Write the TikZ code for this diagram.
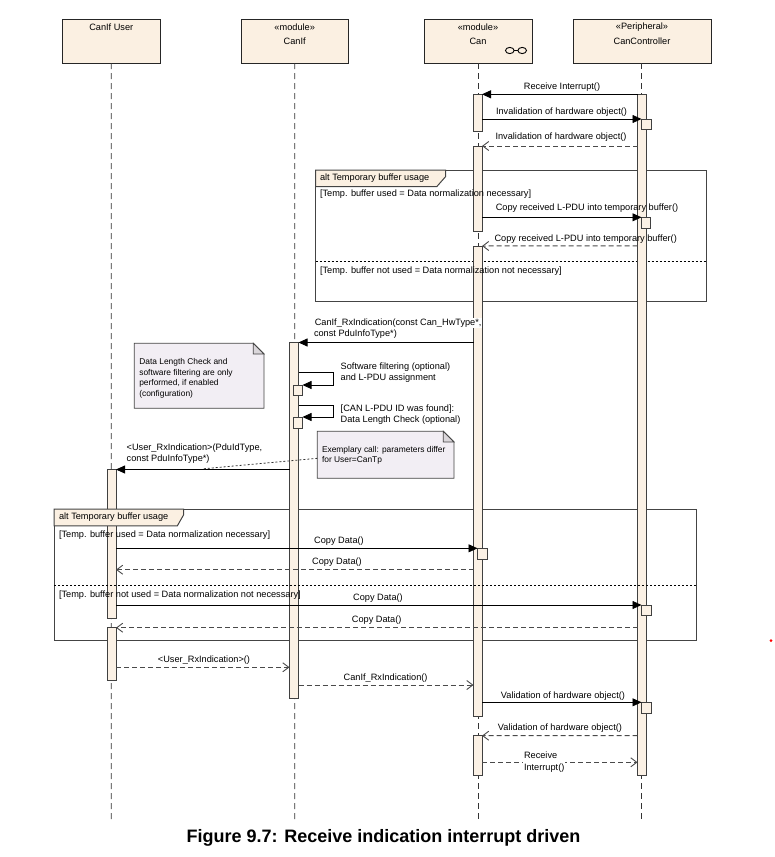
\documentclass[tikz,border=0pt]{standalone}
\usepackage{fontspec}
\setmainfont{Liberation Sans}
\usetikzlibrary{arrows.meta,fit,calc}

\definecolor{headfill}{HTML}{FBF0E2}
\definecolor{barfill}{HTML}{FBF1E5}
\definecolor{notefill}{HTML}{F2EEF4}
\definecolor{foldfill}{HTML}{DAD6DA}
\definecolor{linegray}{HTML}{4A4A4A}
\definecolor{framegray}{HTML}{444444}

\begin{document}
\begin{tikzpicture}[x=1pt,y=-1pt,
  font=\fontsize{9.2}{11}\selectfont,
  every node/.style={inner sep=0pt, outer sep=0pt},
  head/.style={draw=black!85, fill=headfill, line width=0.9pt},
  actbar/.style={draw=black!75, fill=barfill, line width=0.8pt},
  lifeline/.style={draw=black!80, line width=0.8pt, dash pattern=on 6pt off 4pt},
  call/.style={draw=black, line width=0.8pt, -{Triangle[length=9pt,width=8pt]}},
  ret/.style={draw=linegray, line width=1pt, dash pattern=on 5pt off 3pt,
    -{Straight Barb[length=6pt,width=9pt,line width=0.9pt]}},
  umlframe/.style={draw=framegray, line width=1pt},
  tabshape/.style={draw=framegray, fill=headfill, line width=1pt},
  sep/.style={draw=black, line width=0.8pt, dash pattern=on 2pt off 2pt},
  notebody/.style={draw=framegray, fill=notefill, line width=0.8pt},
  notefold/.style={draw=framegray, fill=foldfill, line width=0.8pt},
  notetext/.style={font=\fontsize{8.4}{10.6}\selectfont, align=left, anchor=west},
  lbl/.style={anchor=center},
  lbll/.style={anchor=west, align=left},
  link/.style={draw=black!80, line width=0.8pt, dash pattern=on 2pt off 2pt}
]
\useasboundingbox (0,0) rectangle (775,857);

% ---------- combined fragments (frames) ----------
\node[fit={(315.7,170) (706,301)}] (frameA) {};
\draw[umlframe] (frameA.north west) rectangle (frameA.south east);
\draw[tabshape] (frameA.north west) -- (445.7,170) -- (445.7,176.5) -- (436.7,186.7) -- (315.7,186.7) -- cycle;
\draw[sep] (frameA.west |- 0,261) -- (frameA.east |- 0,261);

\node[fit={(54,509) (696.7,640.7)}] (frameB) {};
\draw[umlframe] (frameB.north west) rectangle (frameB.south east);

% ---------- lifeline heads ----------
\node[head, fit={(62.5,19.5) (160,63)}] (huser) {};
\node[head, fit={(241.5,19.5) (348,63)}] (hcanif) {};
\node[head, fit={(424,19.5) (532,63)}] (hcan) {};
\node[head, fit={(573.5,19.5) (711,63)}] (hcc) {};

\node (tuser) at (111.3,27) {CanIf User};
\node (tcanifs) at (294.7,27.5) {«module»};
\node (tcanif) at (294.7,41) {CanIf};
\node (tcans) at (478,27.5) {«module»};
\node (tcan) at (478,41) {Can};
\node (tccs) at (642,27.5) {«Peripheral»};
\node (tcc) at (642,41) {CanController};
\draw[line width=0.9pt] (509.8,50.5) ellipse [x radius=4.3, y radius=3.1];
\draw[line width=0.9pt] (522.2,50.5) ellipse [x radius=4.3, y radius=3.1];
\draw[line width=0.9pt] (514.1,50.5) -- (517.9,50.5);

% ---------- lifelines ----------
\coordinate (enduser) at (111.3,820);
\coordinate (endcanif) at (294.7,820);
\coordinate (endcan) at (478,820);
\coordinate (endcc) at (641.8,820);
\draw[lifeline] (huser.south) -- (enduser);
\draw[lifeline] (hcanif.south) -- (endcanif);
\draw[lifeline] (478,63) -- (endcan);
\draw[lifeline] (641.8,63) -- (endcc);

% ---------- activation bars ----------
\node[actbar, fit={(637.5,94.3) (646,775.5)}] (ccbar) {};
\node[actbar, fit={(473.5,94.3) (482,131.7)}] (canA) {};
\node[actbar, fit={(473.5,146) (482,231)}] (canB) {};
\node[actbar, fit={(473.5,246) (482,716)}] (canC) {};
\node[actbar, fit={(473.5,735.7) (482,775.5)}] (canD) {};
\node[actbar, fit={(289.5,342.5) (298.5,698)}] (ifbar) {};
\node[actbar, fit={(107,469.5) (116,618)}] (userA) {};
\node[actbar, fit={(107,627.7) (116,680.7)}] (userB) {};

% small execution boxes
\node[actbar, fit={(641.5,119) (651,129)}] (ccx1) {};
\node[actbar, fit={(641.5,217.3) (650.5,228.3)}] (ccx2) {};
\node[actbar, fit={(641.5,605) (651,615.7)}] (ccx3) {};
\node[actbar, fit={(641.5,702.3) (651,713.3)}] (ccx4) {};
\node[actbar, fit={(477.5,548.3) (487,559.3)}] (canx1) {};
\node[actbar, fit={(293.5,385) (302.5,395)}] (ifx1) {};
\node[actbar, fit={(293.5,417) (302.5,428)}] (ifx2) {};

% second frame tab (covers the bar)
\draw[tabshape] (frameB.north west) -- (183.5,509) -- (183.5,515) -- (177.3,525.9) -- (54,525.9) -- cycle;
\draw[sep] (frameB.west |- 0,585.3) -- (frameB.east |- 0,585.3);

% frame texts
\node[lbll] (fa) at (320,177.7) {alt Temporary buffer usage};
\node[lbll] (fa1) at (320,194) {[Temp. buffer used = Data normalization necessary]};
\node[lbll] (fa2) at (320,270.7) {[Temp. buffer not used = Data normalization not necessary]};
\node[lbll] (fb) at (59,516.8) {alt Temporary buffer usage};
\node[lbll] (fb1) at (59,535) {[Temp. buffer used = Data normalization necessary]};
\node[lbll] (fb2) at (59,595) {[Temp. buffer not used = Data normalization not necessary]};

% ---------- messages ----------
\draw[call] (ccbar.west |- 0,94.3) -- (canA.north east);
\node[lbl] (l1) at (562,87) {Receive Interrupt()};

\draw[call] (canA.east |- 0,119) -- (ccx1.north west);
\node[lbl] (l2) at (561.5,112) {Invalidation of hardware object()};

\draw[ret] (ccbar.west |- 0,146) -- (canB.north east);
\node[lbl] (l3) at (561,137) {Invalidation of hardware object()};

\draw[call] (canB.east |- 0,217.3) -- (ccx2.north west);
\node[lbl] (l4) at (587,207.7) {Copy received L-PDU into temporary buffer()};

\draw[ret] (ccbar.west |- 0,245.8) -- (canC.north east);
\node[lbl] (l5) at (585.7,239) {Copy received L-PDU into temporary buffer()};

\draw[call] (canC.west |- 0,342.5) -- (ifbar.north east);
\node[lbll, fill=white, inner sep=0.8pt] (l6a) at (314,323.3) {CanIf\_RxIndication(const Can\_HwType*,};
\node[lbll] (l6b) at (314,334.3) {const PduInfoType*)};

\draw[call] (ifbar.east |- 0,372) -- (333,372) -- (333,385) -- (ifx1.north east);
\node[lbll] (l7) at (340.7,372.8) {Software filtering (optional)\\and L-PDU assignment};

\draw[call] (ifbar.east |- 0,405.5) -- (333,405.5) -- (333,417) -- (ifx2.north east);
\node[lbll] (l8) at (340.7,414.5) {[CAN L-PDU ID was found]:\\Data Length Check (optional)};

\draw[call] (ifbar.west |- 0,469.5) -- (userA.north east);
\node[lbll] (l9) at (126.7,453.8) {<User\_RxIndication>(PduIdType,\\const PduInfoType*)};

% notes
\node[fit={(134.3,343.3) (264,408.3)}] (note1) {};
\draw[notebody] (note1.north west) -- ($(note1.north east)+(-10.7,0)$) -- ($(note1.north east)+(0,10.7)$) -- (note1.south east) -- (note1.south west) -- cycle;
\draw[notefold] ($(note1.north east)+(-10.7,0)$) -- ($(note1.north east)+(-10.7,10.7)$) -- ($(note1.north east)+(0,10.7)$) -- cycle;
\node[notetext] (n1t) at (139.3,378.2) {Data Length Check and\\software filtering are only\\performed, if enabled\\(configuration)};

\node[fit={(317.3,431.3) (454,478.3)}] (note2) {};
\draw[notebody] (note2.north west) -- ($(note2.north east)+(-10.7,0)$) -- ($(note2.north east)+(0,10.7)$) -- (note2.south east) -- (note2.south west) -- cycle;
\draw[notefold] ($(note2.north east)+(-10.7,0)$) -- ($(note2.north east)+(-10.7,10.7)$) -- ($(note2.north east)+(0,10.7)$) -- cycle;
\node[notetext] (n2t) at (322,455.3) {Exemplary call: parameters differ\\for User=CanTp};
\coordinate (linkend) at (203.3,468.8);
\draw[link] (note2.west |- 0,458.3) -- (linkend);

% second fragment messages
\draw[call] (userA.east |- 0,548.3) -- (canx1.north west);
\node[lbl] (l12) at (339,540.7) {Copy Data()};

\draw[ret] (canC.west |- 0,569.7) -- (userA.east |- 0,569.7);
\node[lbl] (l13) at (337,561.7) {Copy Data()};

\draw[call] (userA.east |- 0,605) -- (ccx3.north west);
\node[lbl] (l14) at (378,597.7) {Copy Data()};

\draw[ret] (ccbar.west |- 0,627.7) -- (userB.north east);
\node[lbl] (l15) at (376.7,620) {Copy Data()};

% after fragments
\draw[ret] (userB.east |- 0,667.3) -- (ifbar.west |- 0,667.3);
\node[lbl] (l16) at (204,660) {<User\_RxIndication>()};

\draw[ret] (ifbar.east |- 0,685) -- (canC.west |- 0,685);
\node[lbl] (l17) at (385.6,677.7) {CanIf\_RxIndication()};

\draw[call] (canC.east |- 0,702.3) -- (ccx4.north west);
\node[lbl] (l18) at (563,696) {Validation of hardware object()};

\draw[ret] (ccbar.west |- 0,735.7) -- (canD.north east);
\node[lbl] (l19) at (560,728.3) {Validation of hardware object()};

\draw[ret] (canD.east |- 0,762.3) -- (ccbar.west |- 0,762.3);
\node[lbll, fill=white, inner sep=1pt, font=\fontsize{9.2}{12.3}\selectfont] (l20) at (523,762.2) {Receive\\Interrupt()};

% caption
\node[font=\fontsize{18}{21}\selectfont\bfseries] (caption) at (383.5,838.3) {Figure 9.7: Receive indication interrupt driven};

% stray red mark
\fill[red] (771,640.7) circle [radius=1.5];
\end{tikzpicture}
\end{document}
